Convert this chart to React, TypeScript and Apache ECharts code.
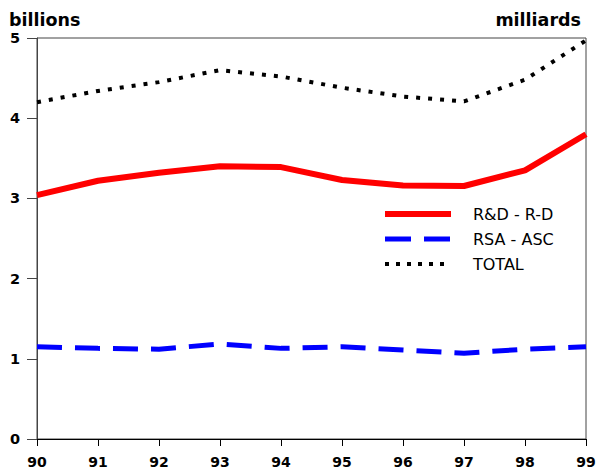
import React, { useEffect, useRef } from "react";
import * as echarts from "echarts";

const years = ["90", "91", "92", "93", "94", "95", "96", "97", "98", "99"];
const rdValues = [3.04, 3.22, 3.32, 3.40, 3.39, 3.23, 3.16, 3.155, 3.35, 3.80];
const rsaValues = [1.15, 1.13, 1.12, 1.185, 1.13, 1.15, 1.11, 1.07, 1.12, 1.15];
const totalValues = [4.2, 4.34, 4.45, 4.6, 4.52, 4.38, 4.27, 4.21, 4.48, 4.97];
const seriesNames = ["R&D - R-D", "RSA - ASC", "TOTAL"];
const seriesColors = ["#ff0000", "#0000ff", "#000000"];
const seriesWidths = [6, 5, 4];
const seriesDash: (number[] | null)[] = [null, [25, 13], [4, 8]];
const legendDash: (number[] | null)[] = [null, [26, 13], [4, 7]];
const unitLeft = "billions";
const unitRight = "milliards";

const FONT = "'DejaVu Sans', Verdana, sans-serif";

export default function App() {
  const ref = useRef<HTMLDivElement>(null);
  useEffect(() => {
    if (!ref.current) return;
    const chart = echarts.init(ref.current, null, { renderer: "svg" });

    const legendX = 385;
    const legendW = 66;
    const legendY = [214, 239, 264];
    const legendGraphics: any[] = [];
    seriesNames.forEach((name, i) => {
      legendGraphics.push({
        type: "line",
        shape: { x1: legendX, y1: legendY[i], x2: legendX + legendW, y2: legendY[i] },
        style: {
          stroke: seriesColors[i],
          lineWidth: seriesWidths[i],
          lineDash: legendDash[i] || undefined,
        },
        silent: true,
      });
      legendGraphics.push({
        type: "text",
        x: 473,
        y: legendY[i],
        style: {
          text: name,
          font: `16px ${FONT}`,
          fill: "#000",
          textVerticalAlign: "middle",
          verticalAlign: "middle",
        },
        silent: true,
      });
    });

    chart.setOption({
      animation: false,
      backgroundColor: "#fff",
      grid: {
        left: 37,
        top: 38,
        right: 13,
        bottom: 34,
        show: true,
        borderColor: "#444",
        borderWidth: 1,
        containLabel: false,
      },
      graphic: [
        {
          type: "text",
          x: 9,
          y: 20,
          style: {
            text: unitLeft,
            font: `bold 17.5px ${FONT}`,
            fill: "#000",
            verticalAlign: "middle",
          },
        },
        {
          type: "text",
          x: 581,
          y: 20,
          style: {
            text: unitRight,
            font: `bold 17.5px ${FONT}`,
            fill: "#000",
            align: "right",
            verticalAlign: "middle",
          },
        },
        ...legendGraphics,
      ],
      xAxis: {
        type: "category",
        data: years,
        boundaryGap: false,
        axisLine: { show: true, lineStyle: { color: "#000", width: 1 } },
        axisTick: { show: true, length: 7, lineStyle: { color: "#000" } },
        axisLabel: { fontFamily: FONT, fontSize: 14, fontWeight: "bold", color: "#000", margin: 16 },
        splitLine: { show: false },
      },
      yAxis: {
        type: "value",
        min: 0,
        max: 5,
        interval: 1,
        axisLine: { show: true, lineStyle: { color: "#444", width: 1 } },
        axisTick: { show: true, length: 10, lineStyle: { color: "#444" } },
        axisLabel: { fontFamily: FONT, fontSize: 14.5, fontWeight: "bold", color: "#000", margin: 17 },
        splitLine: { show: false },
      },
      series: [rdValues, rsaValues, totalValues].map((vals, i) => ({
        name: seriesNames[i],
        type: "line",
        data: vals,
        symbol: "none",
        lineStyle: {
          color: seriesColors[i],
          width: seriesWidths[i],
          type: seriesDash[i] || "solid",
        },
        itemStyle: { color: seriesColors[i] },
      })),
    });
    return () => chart.dispose();
  }, []);
  return <div ref={ref} style={{ width: 599, height: 473, position: "absolute", left: 0, top: 0 }} />;
}
